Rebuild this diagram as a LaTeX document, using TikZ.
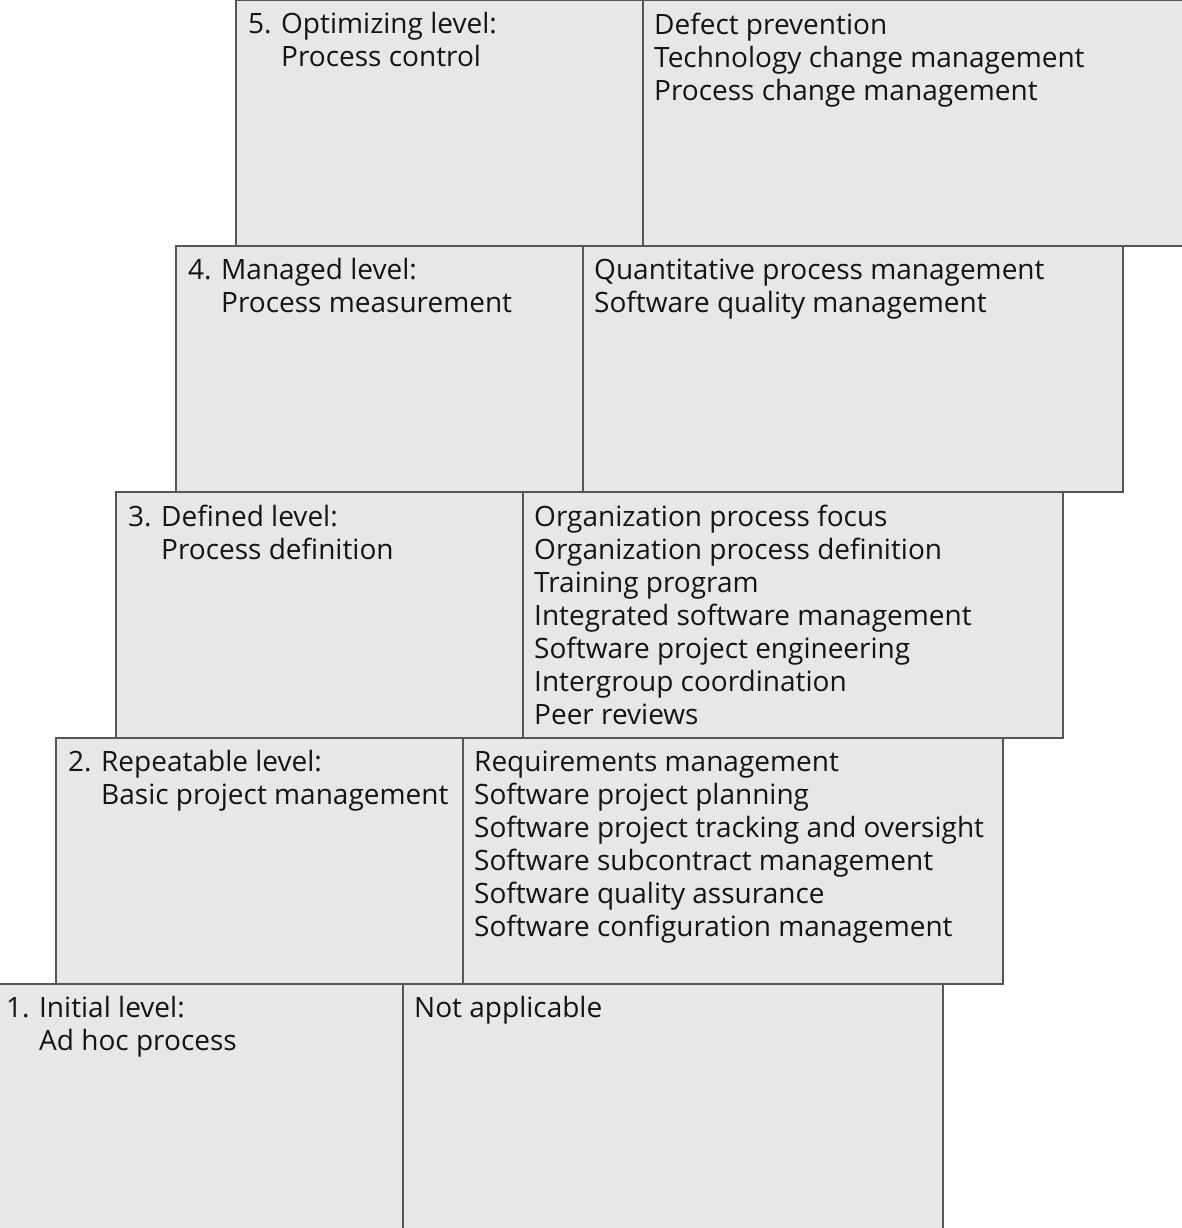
\documentclass[tikz,border=0pt]{standalone}
\usepackage{fontspec}
\setmainfont{Open Sans}
\usepackage{xcolor}
\usetikzlibrary{positioning}

\definecolor{boxfill}{HTML}{E6E7E9}
\definecolor{boxline}{HTML}{555557}

% number, level name, focus
\newcommand{\lvlhead}[3]{\makebox[33pt][l]{#1}#2\\\hspace*{33pt}#3}

\begin{document}
\begin{tikzpicture}[x=1pt, y=-1pt,
    box/.style={draw=boxline, fill=boxfill, line width=1.6pt, inner sep=0pt,
      outer sep=0pt, minimum height=246pt, anchor=north west},
    lvl/.style={box, minimum width=407pt},
    kpa/.style={box, minimum width=540pt},
    txt/.style={anchor=north west, align=left, inner sep=0pt, text=black!92,
      font=\fontsize{28}{33}\selectfont}]

  \useasboundingbox (0,0) rectangle (1182,1228);

  % the boxes, one row per level
  \node[lvl] (L5) at (236,0) {};
  \node[kpa, right=0pt of L5.north east, anchor=north west] (K5) {};
  \node[lvl] (L4) at ([xshift=-60pt]L5.south west) {};
  \node[kpa, right=0pt of L4.north east, anchor=north west] (K4) {};
  \node[lvl] (L3) at ([xshift=-60pt]L4.south west) {};
  \node[kpa, right=0pt of L3.north east, anchor=north west] (K3) {};
  \node[lvl] (L2) at ([xshift=-60pt]L3.south west) {};
  \node[kpa, right=0pt of L2.north east, anchor=north west] (K2) {};
  \node[lvl] (L1) at ([xshift=-60pt]L2.south west) {};
  \node[kpa, right=0pt of L1.north east, anchor=north west] (K1) {};

  % texts
  \node[txt] (t5) at ([shift={(12pt,-12.5pt)}]L5.north west)
    {\lvlhead{5.}{Optimizing level:}{Process control}};
  \node[txt] (k5) at ([shift={(11pt,-12.5pt)}]K5.north west)
    {Defect prevention\\Technology change management\\Process change management};
  \node[txt] (t4) at ([shift={(12pt,-12.5pt)}]L4.north west)
    {\lvlhead{4.}{Managed level:}{Process measurement}};
  \node[txt] (k4) at ([shift={(11pt,-12.5pt)}]K4.north west)
    {Quantitative process management\\Software quality management};
  \node[txt] (t3) at ([shift={(12pt,-12.5pt)}]L3.north west)
    {\lvlhead{3.}{Defined level:}{Process definition}};
  \node[txt] (k3) at ([shift={(11pt,-12.5pt)}]K3.north west)
    {Organization process focus\\Organization process definition\\Training program\\
     Integrated software management\\Software project engineering\\
     Intergroup coordination\\Peer reviews};
  \node[txt] (t2) at ([shift={(12pt,-12.5pt)}]L2.north west)
    {\lvlhead{2.}{Repeatable level:}{Basic project management}};
  \node[txt] (k2) at ([shift={(11pt,-12.5pt)}]K2.north west)
    {Requirements management\\Software project planning\\
     Software project tracking and oversight\\Software subcontract management\\
     Software quality assurance\\Software configuration management};
  \node[txt] (t1) at ([shift={(10pt,-12.5pt)}]L1.north west)
    {\lvlhead{1.}{Initial level:}{Ad hoc process}};
  \node[txt] (k1) at ([shift={(11pt,-12.5pt)}]K1.north west)
    {Not applicable};
\end{tikzpicture}
\end{document}
